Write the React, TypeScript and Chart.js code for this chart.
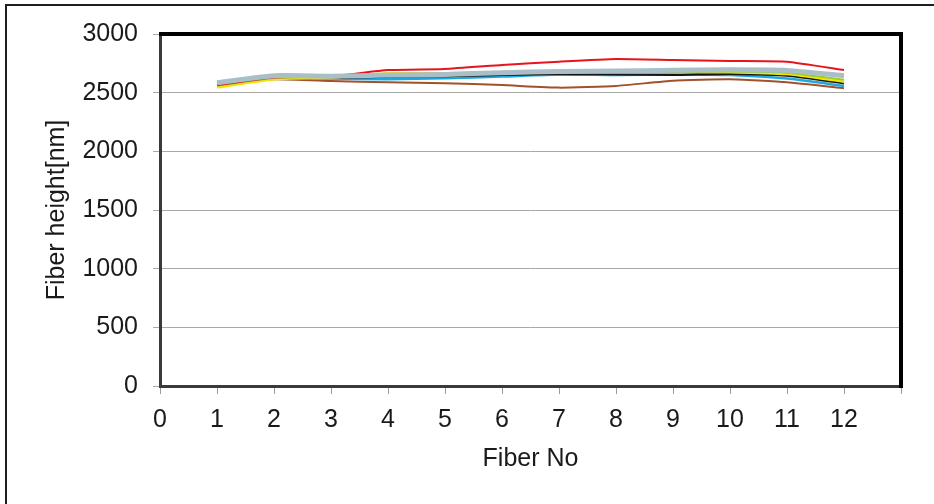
import React, { useEffect, useRef } from "react";
import { Chart, registerables } from "chart.js";

Chart.register(...registerables);

const fiberNo = [1, 2, 3, 4, 5, 6, 7, 8, 9, 10, 11, 12];
const xTickValues = [0, 1, 2, 3, 4, 5, 6, 7, 8, 9, 10, 11, 12];
const yTickValues = [0, 500, 1000, 1500, 2000, 2500, 3000];

const seriesGray = [2585, 2645, 2640, 2650, 2655, 2670, 2680, 2685, 2690, 2695, 2690, 2645];
const seriesRed = [2565, 2630, 2640, 2693, 2702, 2736, 2764, 2787, 2778, 2770, 2764, 2693];
const seriesYellow = [2545, 2615, 2630, 2665, 2665, 2673, 2679, 2679, 2679, 2675, 2659, 2594];
const seriesGreen = [2560, 2625, 2635, 2650, 2655, 2665, 2670, 2675, 2675, 2680, 2670, 2610];
const seriesBlack = [2560, 2620, 2625, 2635, 2640, 2650, 2660, 2655, 2650, 2660, 2645, 2580];
const seriesBlue = [2565, 2625, 2620, 2615, 2623, 2637, 2655, 2650, 2655, 2650, 2620, 2557];
const seriesBrown = [2570, 2614, 2600, 2588, 2580, 2565, 2543, 2557, 2602, 2614, 2588, 2537];

const FONT = "'Liberation Sans', Arial, sans-serif";

const toPoints = (vals: number[]) => vals.map((v, i) => ({ x: fiberNo[i], y: v }));

const framePlugin = {
  id: "framePlugin",
  afterDraw(chart: any) {
    const { ctx, chartArea } = chart;
    const { left, top, right, bottom } = chartArea;
    ctx.save();
    ctx.strokeStyle = "#1e1e1e";
    ctx.lineWidth = 2;
    ctx.beginPath();
    ctx.moveTo(6, 504);
    ctx.lineTo(6, 5);
    ctx.lineTo(934, 5);
    ctx.stroke();
    ctx.lineWidth = 3;
    ctx.strokeStyle = "#3a3a3a";
    ctx.beginPath();
    ctx.moveTo(left + 0.5, top);
    ctx.lineTo(left + 0.5, bottom + 0.5);
    ctx.lineTo(right, bottom + 0.5);
    ctx.stroke();
    ctx.lineWidth = 4;
    ctx.strokeStyle = "#000000";
    ctx.beginPath();
    ctx.moveTo(left - 1, top);
    ctx.lineTo(right, top);
    ctx.lineTo(right, bottom + 2);
    ctx.stroke();
    ctx.restore();
  },
};

export default function App() {
  const ref = useRef<HTMLCanvasElement | null>(null);

  useEffect(() => {
    if (!ref.current) return;
    const mk = (label: string, data: number[], color: string, width: number) => ({
      label,
      data: toPoints(data),
      borderColor: color,
      backgroundColor: color,
      borderWidth: width,
      pointRadius: 0,
      tension: 0.15,
      fill: false,
    });
    const chart = new Chart(ref.current, {
      type: "line",
      data: {
        datasets: [
          mk("Gray", seriesGray, "#a9bec6", 5),
          mk("Red", seriesRed, "#e8141c", 2),
          mk("Green", seriesGreen, "#9acd32", 2),
          mk("Yellow", seriesYellow, "#f2e600", 2.5),
          mk("Black", seriesBlack, "#161616", 2),
          mk("Blue", seriesBlue, "#1fa8e0", 2.5),
          mk("Brown", seriesBrown, "#a0522d", 2),
        ],
      },
      options: {
        animation: false,
        responsive: false,
        maintainAspectRatio: false,
        layout: { padding: { left: 0, top: 34, right: 33, bottom: 0 } },
        plugins: {
          legend: { display: false },
          tooltip: { enabled: false },
          title: { display: false },
        },
        scales: {
          x: {
            type: "linear",
            min: 0,
            max: 13,
            afterBuildTicks: (scale: any) => {
              scale.ticks = [...xTickValues, 13].map((v) => ({ value: v }));
            },
            afterFit: (scale: any) => {
              scale.height = 118;
            },
            ticks: {
              autoSkip: false,
              maxRotation: 0,
              padding: 11,
              color: "#1a1a1a",
              font: { family: FONT, size: 25 },
              callback: (v: any) => (xTickValues.includes(Number(v)) ? String(v) : ""),
            },
            grid: {
              display: true,
              drawOnChartArea: false,
              drawTicks: true,
              tickLength: 8,
              color: "#9a9a9a",
              lineWidth: 1,
            },
            border: { display: false },
            title: {
              display: true,
              text: "Fiber No",
              color: "#1a1a1a",
              font: { family: FONT, size: 25 },
              padding: { top: 0, bottom: 30 },
            },
          },
          y: {
            type: "linear",
            min: 0,
            max: 3000,
            afterBuildTicks: (scale: any) => {
              scale.ticks = yTickValues.map((v) => ({ value: v }));
            },
            afterFit: (scale: any) => {
              scale.width = 160;
            },
            ticks: {
              padding: 15,
              color: "#1a1a1a",
              font: { family: FONT, size: 25 },
              callback: (v: any) => String(v),
            },
            grid: {
              display: true,
              drawOnChartArea: true,
              drawTicks: true,
              tickLength: 7,
              color: "#a8a8a8",
              lineWidth: 1,
            },
            border: { display: false },
            title: {
              display: true,
              text: "Fiber height[nm]",
              color: "#1a1a1a",
              font: { family: FONT, size: 25 },
              padding: { top: 42, bottom: 0 },
            },
          },
        },
      },
      plugins: [framePlugin],
    } as any);
    return () => chart.destroy();
  }, []);

  return (
    <div style={{ position: "absolute", left: 0, top: 0, width: 934, height: 504, background: "#fff" }}>
      <canvas ref={ref} width={934} height={504} style={{ display: "block", width: 934, height: 504 }} />
    </div>
  );
}
